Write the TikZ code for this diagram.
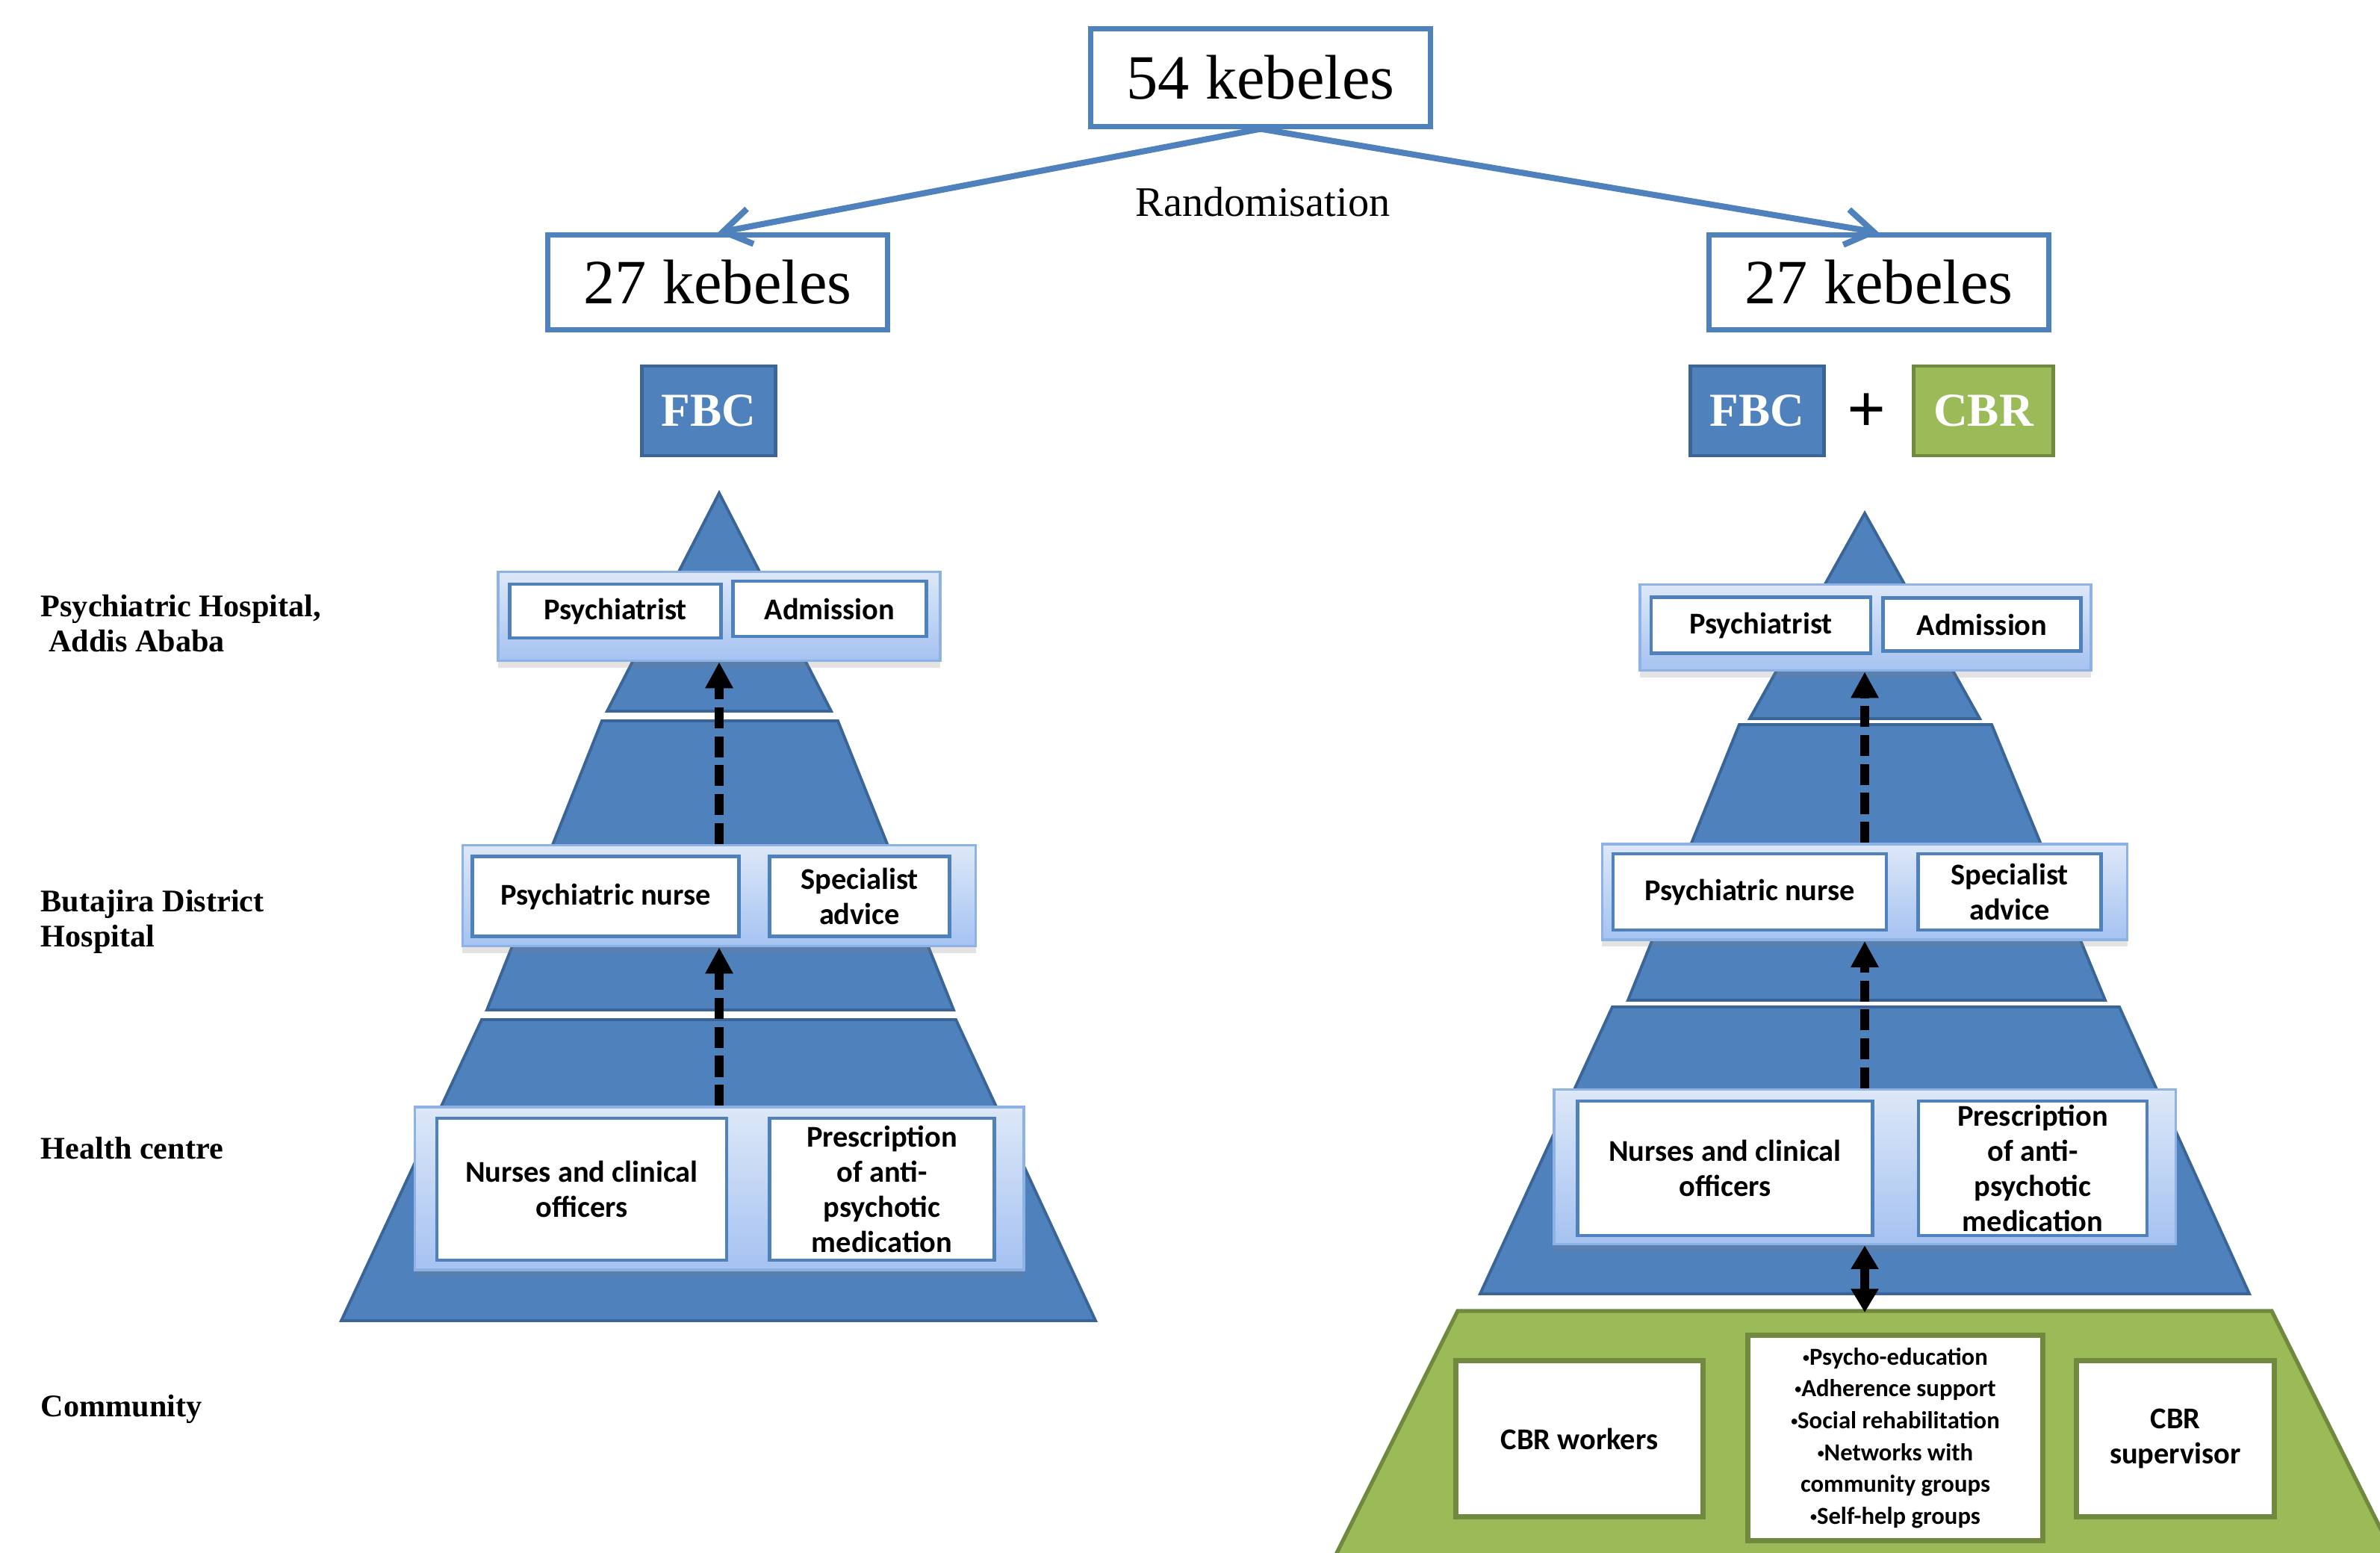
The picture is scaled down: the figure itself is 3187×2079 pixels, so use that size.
\documentclass[tikz,border=0pt]{standalone}
\usepackage{fontspec}
\setmainfont{Liberation Serif}
\newfontfamily\calfont{Carlito}
\usetikzlibrary{arrows.meta,shadows}
\definecolor{obl}{HTML}{4F81BD}
\definecolor{obd}{HTML}{3A6596}
\definecolor{grptop}{HTML}{DDE8F8}
\definecolor{grpbot}{HTML}{A5C2F1}
\definecolor{grpline}{HTML}{8EB2E4}
\definecolor{grnf}{HTML}{9BBB59}
\definecolor{grnd}{HTML}{71893F}
\newcommand\smbul{\raisebox{0.12em}{\scalebox{0.55}{•}}}
\tikzset{
  x=0.01cm, y=-0.01cm,
  kebbox/.style={draw=obl, line width=2pt, fill=white, inner sep=0pt, font=\fontsize{24}{28}\selectfont},
  tagbox/.style={draw=obd, line width=1.4pt, fill=obl, text=white, inner sep=0pt, font=\bfseries\fontsize{18}{20}\selectfont},
  grpbox/.style={draw=grpline, line width=1pt, top color=grptop, bottom color=grpbot, inner sep=0pt,
    drop shadow={shadow xshift=0pt, shadow yshift=-0.9mm, opacity=0.22}},
  cellbox/.style={draw=obl, line width=1.3pt, fill=white, inner sep=0pt, align=center,
    font=\calfont\bfseries\fontsize{11.5}{13.4}\selectfont},
  comcell/.style={draw=grnd, line width=2pt, fill=white, inner sep=0pt, align=center,
    font=\calfont\bfseries\fontsize{11.5}{13.4}\selectfont},
  pyr/.style={fill=obl, draw=obd, line width=1.1pt, line join=miter},
  grn/.style={fill=grnf, draw=grnd, line width=1.5pt},
  lvl/.style={anchor=west, align=left, inner sep=0pt, font=\bfseries\fontsize{12}{13.4}\selectfont},
  splitarrow/.style={draw=obl, line width=2.3pt, -{Straight Barb[length=10.5pt,width=13.6pt]}},
  dasharrow/.style={line width=3.4pt, dash pattern=on 8pt off 3pt, -{Triangle[length=10pt,width=10pt]}},
  dblarrow/.style={line width=3.4pt, {Triangle[length=9pt,width=10pt]}-{Triangle[length=9pt,width=10pt]}}
}
\begin{document}
\begin{tikzpicture}
\useasboundingbox (0,0) rectangle (3187,2079);
\fill[white] (0,0) rectangle (3187,2079);

% top level
\node[kebbox, minimum width=4.54cm, minimum height=1.30cm] (k54) at (1688,104) {54 kebeles};
\node[kebbox, minimum width=4.55cm, minimum height=1.26cm] (k27l) at (961,378) {27 kebeles};
\node[kebbox, minimum width=4.55cm, minimum height=1.26cm] (k27r) at (2516,378) {27 kebeles};
\node[font=\fontsize{16}{18}\selectfont, inner sep=0pt] (rand) at (1691,270) {Randomisation};
\draw[splitarrow] (k54.south) -- (k27l.north);
\draw[splitarrow] (k54.south) -- (k27r.north);

\node[tagbox, minimum width=1.79cm, minimum height=1.20cm] (fbcl) at (949,550) {FBC};
\node[tagbox, minimum width=1.79cm, minimum height=1.20cm] (fbcr) at (2353,550) {FBC};
\node[font=\bfseries\fontsize{26}{28}\selectfont, inner sep=0pt] (plus) at (2500,553) {+};
\node[tagbox, draw=grnd, fill=grnf, minimum width=1.87cm, minimum height=1.20cm] (cbr) at (2656,550) {CBR};

% level labels
\node[lvl] (lab1) at (54,835) {Psychiatric Hospital,\\\hspace*{0.25em}Addis Ababa};
\node[lvl] (lab2) at (54,1234) {Butajira District\\Hospital};
\node[lvl] (lab3) at (54,1537) {Health centre};
\node[lvl] (lab4) at (54,1886) {Community};

% left pyramid
\draw[pyr] (963,660) -- (1113,952) -- (813,952) -- cycle;
\draw[pyr] (806,965) -- (1122,965) -- (1277,1352) -- (652,1352) -- cycle;
\draw[pyr] (645,1365) -- (1280,1365) -- (1467,1768) -- (457,1768) -- cycle;

% right pyramid
\draw[pyr] (2497,687) -- (2651,962) -- (2343,962) -- cycle;
\draw[pyr] (2329,970) -- (2667,970) -- (2819,1339) -- (2180,1339) -- cycle;
\draw[pyr] (2159,1348) -- (2838,1348) -- (3012,1732) -- (1982,1732) -- cycle;

% community trapezoid
\begin{scope}
\clip (0,0) rectangle (3187,2079);
\draw[grn] (1952,1755) -- (3042,1755) -- (3242,2155) -- (1752,2155) -- cycle;
\end{scope}

% left groups
\node[grpbox, minimum width=5.92cm, minimum height=1.19cm] (lg1) at (963,825) {};
\node[cellbox, minimum width=2.83cm, minimum height=0.72cm] (lpsy) at (824,818) {Psychiatrist};
\node[cellbox, minimum width=2.59cm, minimum height=0.74cm] (ladm) at (1111,815) {Admission};

\node[grpbox, minimum width=6.87cm, minimum height=1.35cm] (lg2) at (963,1199) {};
\node[cellbox, minimum width=3.57cm, minimum height=1.07cm] (lnur) at (811,1200) {Psychiatric nurse};
\node[cellbox, minimum width=2.41cm, minimum height=1.07cm] (lspe) at (1151,1200) {Specialist\\advice};

\node[grpbox, minimum width=8.15cm, minimum height=2.18cm] (lg3) at (963,1591) {};
\node[cellbox, minimum width=3.88cm, minimum height=1.90cm] (lncl) at (779,1592) {Nurses and clinical\\officers};
\node[cellbox, minimum width=3.01cm, minimum height=1.90cm] (lpre) at (1181,1592) {Prescription\\of anti-\\psychotic\\medication};

\draw[dasharrow] (lg2.north) -- (lg2.north |- lg1.south);
\draw[dasharrow] (lg3.north) -- (lg3.north |- lg2.south);

% right groups
\node[grpbox, minimum width=6.04cm, minimum height=1.15cm] (rg1) at (2498,840) {};
\node[cellbox, minimum width=2.94cm, minimum height=0.75cm] (rpsy) at (2358,837) {Psychiatrist};
\node[cellbox, minimum width=2.65cm, minimum height=0.71cm] (radm) at (2654,836) {Admission};

\node[grpbox, minimum width=7.03cm, minimum height=1.28cm] (rg2) at (2497,1194) {};
\node[cellbox, minimum width=3.66cm, minimum height=1.02cm] (rnur) at (2343,1194) {Psychiatric nurse};
\node[cellbox, minimum width=2.45cm, minimum height=1.02cm] (rspe) at (2691,1194) {Specialist\\advice};

\node[grpbox, minimum width=8.32cm, minimum height=2.07cm] (rg3) at (2497,1562) {};
\node[cellbox, minimum width=3.95cm, minimum height=1.80cm] (rncl) at (2310,1564) {Nurses and clinical\\officers};
\node[cellbox, minimum width=3.06cm, minimum height=1.80cm] (rpre) at (2722,1564) {Prescription\\of anti-\\psychotic\\medication};

\draw[dasharrow] (rg2.north) -- (rg2.north |- rg1.south);
\draw[dasharrow] (rg3.north) -- (rg3.north |- rg2.south);

% community cells
\coordinate (gtop) at (2497,1757);
\draw[dblarrow] (rg3.south) -- (gtop);
\node[comcell, minimum width=3.30cm, minimum height=2.08cm] (cw) at (2115,1926) {CBR workers};
\node[comcell, minimum width=3.94cm, minimum height=2.74cm, font=\calfont\bfseries\fontsize{9.3}{12.1}\selectfont] (cact) at (2538,1925)
  {\smbul Psycho-education\\\smbul Adherence support\\\smbul Social rehabilitation\\\smbul Networks with\\community groups\\\smbul Self-help groups};
\node[comcell, minimum width=2.64cm, minimum height=2.08cm] (csup) at (2913,1926) {CBR\\supervisor};
\end{tikzpicture}
\end{document}
